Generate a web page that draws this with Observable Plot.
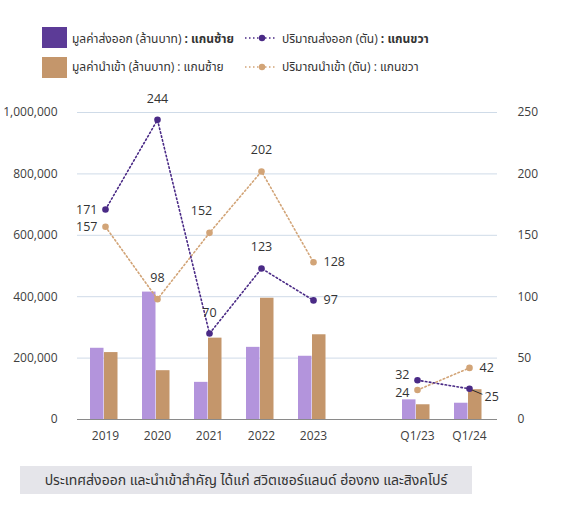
<!DOCTYPE html>
<html>
<head>
<meta charset="utf-8">
<script src="https://cdn.jsdelivr.net/npm/d3@7"></script>
<script src="https://cdn.jsdelivr.net/npm/@observablehq/plot@0.6"></script>
<style>
  html, body { margin: 0; padding: 0; background: #fff; }
  body { width: 588px; height: 517px; position: relative; overflow: hidden;
         font-family: "Open Sans", "Noto Sans Thai", "Noto Sans", sans-serif; color: #333; }
  .sw { position: absolute; width: 25px; height: 21px; }
  .lt { position: absolute; font-size: 12px; line-height: 16px; white-space: nowrap; color: #333; }
  .ln { position: absolute; }
  #chart { position: absolute; left: 0; top: 90px; }
  #caption { position: absolute; left: 20px; top: 466px; width: 452px; height: 28px; background: #e5e5ea;
             font-size: 14px; line-height: 28px; text-align: center; color: #333; }
</style>
</head>
<body>
<div class="sw" style="left:42px;top:27px;background:#5c3b97"></div>
<div class="lt" style="left:72px;top:31px">มูลค่าส่งออก (ล้านบาท) <b>: แกนซ้าย</b></div>
<svg class="ln" style="left:244px;top:31px" width="34" height="14"><line x1="1" x2="33" y1="7" y2="7" stroke="#4a2a86" stroke-width="1.6" stroke-dasharray="1.5,2.5"/><circle cx="18" cy="7" r="3.2" fill="#4a2a86"/></svg>
<div class="lt" style="left:282px;top:31px">ปริมาณส่งออก (ตัน) <b>: แกนขวา</b></div>
<div class="sw" style="left:42px;top:57px;background:#c4966b"></div>
<div class="lt" style="left:72px;top:59px">มูลค่านำเข้า (ล้านบาท) : แกนซ้าย</div>
<svg class="ln" style="left:244px;top:60px" width="34" height="14"><line x1="1" x2="33" y1="7" y2="7" stroke="#d2a477" stroke-width="1.6" stroke-dasharray="1.5,2.5"/><circle cx="18" cy="7" r="3.2" fill="#d2a477"/></svg>
<div class="lt" style="left:282px;top:59px">ปริมาณนำเข้า (ตัน) : แกนขวา</div>
<div id="chart"></div>
<div id="caption">ประเทศส่งออก และนำเข้าสำคัญ ได้แก่ สวิตเซอร์แลนด์ ฮ่องกง และสิงคโปร์</div>
<script>
// ---- data ----
const periods = ["2019", "2020", "2021", "2022", "2023", "Q1/23", "Q1/24"];
const periodGroup = ["annual", "annual", "annual", "annual", "annual", "quarter", "quarter"];
const exportValue = [232000, 415000, 121000, 235000, 206000, 64000, 53000];   // ล้านบาท (left axis)
const importValue = [218000, 159000, 265000, 395000, 276000, 48000, 97000];   // ล้านบาท (left axis)
const exportVolume = [171, 244, 70, 123, 97, 32, 25];                         // ตัน (right axis)
const importVolume = [157, 98, 152, 202, 128, 24, 42];                        // ตัน (right axis)
const leftTicks = [0, 200000, 400000, 600000, 800000, 1000000];
const rightTicks = [0, 50, 100, 150, 200, 250];

// label placement (presentation only)
const exportLabelPos = ["left", "above", "above", "above", "right", "leftUp", "rightBelow"];
const importLabelPos = ["left", "above", "aboveLeft", "above", "right", "leftDown", "right"];

const ratio = 1000000 / 250; // right axis -> left axis
const xDomain = ["2019", "2020", "2021", "2022", "2023", "gap", "Q1/23", "Q1/24"];

const rows = periods.map((p, i) => ({
  period: p, group: periodGroup[i],
  exportValue: exportValue[i], importValue: importValue[i],
  exportVolume: exportVolume[i], importVolume: importVolume[i],
  expPos: exportLabelPos[i], impPos: importLabelPos[i]
}));

const EXP_BAR = "#b394dc", IMP_BAR = "#c4966b", EXP_LINE = "#4a2a86", IMP_LINE = "#d2a477";
const place = {
  left: {dx: -8, dy: 0, textAnchor: "end"},
  leftUp: {dx: -8, dy: -5, textAnchor: "end"},
  leftDown: {dx: -8, dy: 3, textAnchor: "end"},
  right: {dx: 10, dy: 0, textAnchor: "start"},
  above: {dx: 0, dy: -21, textAnchor: "middle"},
  aboveLeft: {dx: -8, dy: -22, textAnchor: "middle"},
  rightBelow: {dx: 15, dy: 8, textAnchor: "start"}
};
function labelMarks(valueKey, posKey) {
  return Object.entries(place).map(([k, o]) => Plot.text(rows, {
    filter: d => d[posKey] === k,
    x: "period", y: d => d[valueKey] * ratio, text: d => String(d[valueKey]),
    dx: o.dx, dy: o.dy, textAnchor: o.textAnchor, fill: "#333", fontSize: 12.5
  }));
}

const chart = Plot.plot({
  width: 588, height: 360,
  marginLeft: 77, marginRight: 91, marginTop: 22, marginBottom: 31,
  style: {fontFamily: "'Open Sans', 'Noto Sans', sans-serif", fontSize: "12px", color: "#404040", background: "transparent", overflow: "visible"},
  x: {domain: xDomain, padding: 0, label: null},
  y: {domain: [0, 1000000], label: null},
  marks: [
    Plot.ruleY(leftTicks.filter(d => d > 0), {stroke: "#cfdbe8", strokeWidth: 1}),
    Plot.barY(rows, {x: "period", y: "exportValue", fill: EXP_BAR, insetLeft: 11, insetRight: 27.5}),
    Plot.barY(rows, {x: "period", y: "importValue", fill: IMP_BAR, insetLeft: 25, insetRight: 13.5}),
    Plot.ruleY([0], {stroke: "#8a8a8a", strokeWidth: 1.2}),
    Plot.line(rows, {x: "period", y: d => d.importVolume * ratio, z: "group", stroke: IMP_LINE, strokeWidth: 1.6, strokeDasharray: "1.5,2.5"}),
    Plot.line(rows, {x: "period", y: d => d.exportVolume * ratio, z: "group", stroke: EXP_LINE, strokeWidth: 1.6, strokeDasharray: "1.5,2.5"}),
    Plot.dot(rows, {x: "period", y: d => d.importVolume * ratio, r: 3.3, fill: IMP_LINE}),
    Plot.dot(rows, {x: "period", y: d => d.exportVolume * ratio, r: 3.3, fill: EXP_LINE}),
    ...labelMarks("importVolume", "impPos"),
    ...labelMarks("exportVolume", "expPos"),
    Plot.text(rows, {filter: d => d.expPos === "rightBelow", x: "period", y: d => d.exportVolume * ratio,
      text: () => "—", rotate: 22, dx: 8, dy: 3, fill: "#222", fontSize: 12}),
    Plot.axisX({ticks: periods, tickSize: 0, tickPadding: 12, label: null, fontSize: 12}),
    Plot.axisY({anchor: "left", ticks: leftTicks, tickSize: 0, tickPadding: 20, label: null, tickFormat: d3.format(","), fontSize: 12}),
    Plot.axisY({anchor: "right", ticks: leftTicks, tickSize: 0, tickPadding: 20, label: null, tickFormat: d => String(d / ratio), fontSize: 12})
  ]
});
document.getElementById("chart").appendChild(chart);
</script>
</body>
</html>
